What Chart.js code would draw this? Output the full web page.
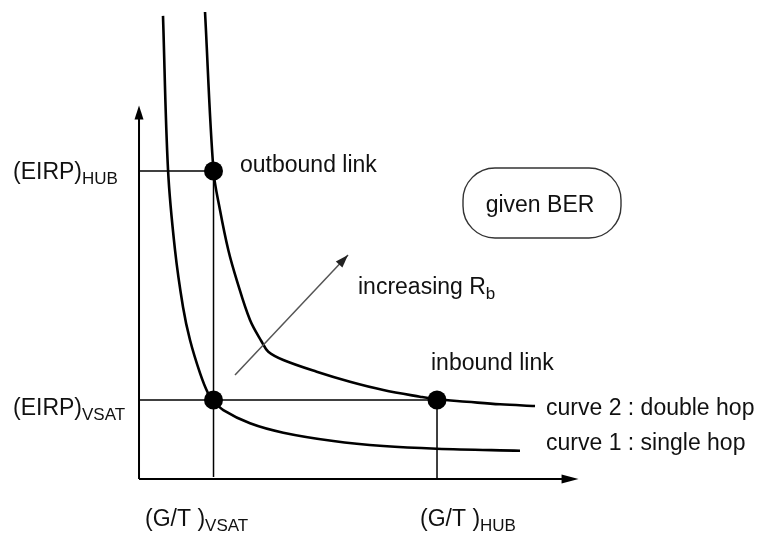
<!DOCTYPE html>
<html>
<head>
<meta charset="utf-8">
<script src="https://cdn.jsdelivr.net/npm/chart.js@4.4.1/dist/chart.umd.min.js"></script>
<style>
  html, body { margin: 0; padding: 0; background: #fff; }
  #wrap { width: 760px; height: 539px; }
</style>
</head>
<body>
<div id="wrap"><canvas id="chart" width="760" height="539"></canvas></div>
<script>
// Các giá trị (đơn vị tùy ý: x = G/T, y = EIRP)
const gtVsat = 2, gtHub = 8;
const eirpVsat = 2.05, eirpHub = 8;

// nhãn trục (chính + chỉ số dưới)
const xTickValues = [gtVsat, gtHub];
const xTickLabels = [['(G/T )', 'VSAT'], ['(G/T )', 'HUB']];
const yTickValues = [eirpVsat, eirpHub];
const yTickLabels = [['(EIRP)', 'VSAT'], ['(EIRP)', 'HUB']];

// đường cong 1 : single hop
const curve1X = [0.644, 0.779, 0.966, 1.181, 1.369, 1.638, 1.852, 2.0, 2.263, 2.98, 3.874, 5.216, 6.558, 7.992, 10.228];
const curve1Y = [12.03, 8.03, 5.95, 4.47, 3.61, 2.75, 2.23, 2.03, 1.79, 1.447, 1.203, 0.987, 0.857, 0.787, 0.735];

// đường cong 2 : double hop
const curve2X = [1.772, 2.0, 2.174, 2.397, 2.623, 2.98, 3.294, 3.471, 3.874, 4.77, 5.664, 6.558, 7.543, 8.0, 8.797, 9.691, 10.631];
const curve2Y = [12.13, 8.0, 6.987, 5.948, 5.169, 4.13, 3.566, 3.306, 3.091, 2.787, 2.527, 2.312, 2.138, 2.07, 2.008, 1.94, 1.896];

// các điểm làm việc
const pointX = [gtVsat, gtVsat, gtHub];
const pointY = [eirpHub, eirpVsat, eirpVsat];

// trục và mũi tên "increasing Rb"
const xAxisEnd = 11.8;
const yAxisEnd = 9.7;
const arrowX = [2.577, 5.611];
const arrowY = [2.701, 5.818];

const toXY = (xs, ys) => xs.map((x, i) => ({ x, y: ys[i] }));

const FONT = '"Liberation Sans", Arial, sans-serif';
const INK = '#111';

function drawSub(ctx, x, y, main, sub) {
    ctx.font = '23px ' + FONT;
    ctx.fillText(main, x, y);
    const w = ctx.measureText(main).width;
    ctx.font = '17px ' + FONT;
    ctx.fillText(sub, x + w, y + 5);
}

function arrowHead(ctx, fromX, fromY, toX, toY, len, half) {
    const a = Math.atan2(toY - fromY, toX - fromX);
    ctx.beginPath();
    ctx.moveTo(toX, toY);
    ctx.lineTo(toX - len * Math.cos(a) + half * Math.sin(a), toY - len * Math.sin(a) - half * Math.cos(a));
    ctx.lineTo(toX - len * Math.cos(a) - half * Math.sin(a), toY - len * Math.sin(a) + half * Math.cos(a));
    ctx.closePath();
    ctx.fill();
}

const extras = {
    id: 'extras',
    afterDatasetsDraw(chart) {
        const { ctx } = chart;
        const sx = chart.scales.x, sy = chart.scales.y;
        const px = v => sx.getPixelForValue(v);
        const py = v => sy.getPixelForValue(v);
        ctx.save();
        ctx.fillStyle = '#000';
        // mũi tên trục
        arrowHead(ctx, px(0), py(0), px(0), py(yAxisEnd), 14, 4.5);
        arrowHead(ctx, px(0), py(0), px(xAxisEnd), py(0), 17, 4.5);
        // mũi tên increasing Rb
        ctx.fillStyle = '#222';
        arrowHead(ctx, px(arrowX[0]), py(arrowY[0]), px(arrowX[1]), py(arrowY[1]), 13, 4.5);

        // hộp "given BER"
        ctx.strokeStyle = '#333';
        ctx.lineWidth = 1.4;
        ctx.beginPath();
        ctx.roundRect(463, 168, 158, 70, 32);
        ctx.stroke();

        ctx.fillStyle = INK;
        ctx.textBaseline = 'alphabetic';
        ctx.textAlign = 'left';
        // nhãn trục y
        const yLabelDy = [15, 8];
        yTickValues.forEach((v, i) => drawSub(ctx, 13, py(v) + yLabelDy[i], yTickLabels[i][0], yTickLabels[i][1]));
        // nhãn trục x
        const xLabelLeft = [145, 420];
        xTickValues.forEach((v, i) => drawSub(ctx, xLabelLeft[i], 526, xTickLabels[i][0], xTickLabels[i][1]));

        ctx.font = '23px ' + FONT;
        ctx.fillText('outbound link', 240, 172);
        ctx.fillText('inbound link', 431, 370);
        ctx.fillText('curve 2 : double hop', 546, 415);
        ctx.fillText('curve 1 : single hop', 546, 450);
        drawSub(ctx, 358, 294, 'increasing R', 'b');
        ctx.font = '23px ' + FONT;
        ctx.textAlign = 'center';
        ctx.fillText('given BER', 540, 212);
        ctx.restore();
    }
};

const lineDs = (data, width, color) => ({
    data, showLine: true, borderColor: color, borderWidth: width,
    pointRadius: 0, fill: false, tension: 0, clip: false
});

const curveDs = data => Object.assign(lineDs(data, 2.6, '#000'), { tension: 0.35 });

new Chart(document.getElementById('chart'), {
    type: 'scatter',
    data: {
        datasets: [
            lineDs(toXY([0, xAxisEnd - 0.3], [0, 0]), 2, '#000'),
            lineDs(toXY([0, 0], [0, yAxisEnd - 0.3]), 2, '#000'),
            lineDs(toXY([0, gtVsat], [eirpHub, eirpHub]), 1.5, '#000'),
            lineDs(toXY([gtVsat, gtVsat], [eirpHub, 0.05]), 1.5, '#000'),
            lineDs(toXY([0, gtHub], [eirpVsat, eirpVsat]), 1.5, '#000'),
            lineDs(toXY([gtHub, gtHub], [eirpVsat, 0]), 1.5, '#000'),
            lineDs(toXY(arrowX, arrowY), 1.5, '#555'),
            curveDs(toXY(curve1X, curve1Y)),
            curveDs(toXY(curve2X, curve2Y)),
            {
                data: toXY(pointX, pointY), showLine: false,
                pointRadius: 9.5, pointBackgroundColor: '#000', pointBorderWidth: 0, clip: false
            }
        ]
    },
    options: {
        responsive: false,
        animation: false,
        layout: { padding: 0, autoPadding: false },
        plugins: { legend: { display: false }, tooltip: { enabled: false } },
        scales: {
            x: { type: 'linear', display: false, min: -3.732, max: 16.671 },
            y: { type: 'linear', display: false, min: -1.558, max: 12.442 }
        }
    },
    plugins: [extras]
});
</script>
</body>
</html>
